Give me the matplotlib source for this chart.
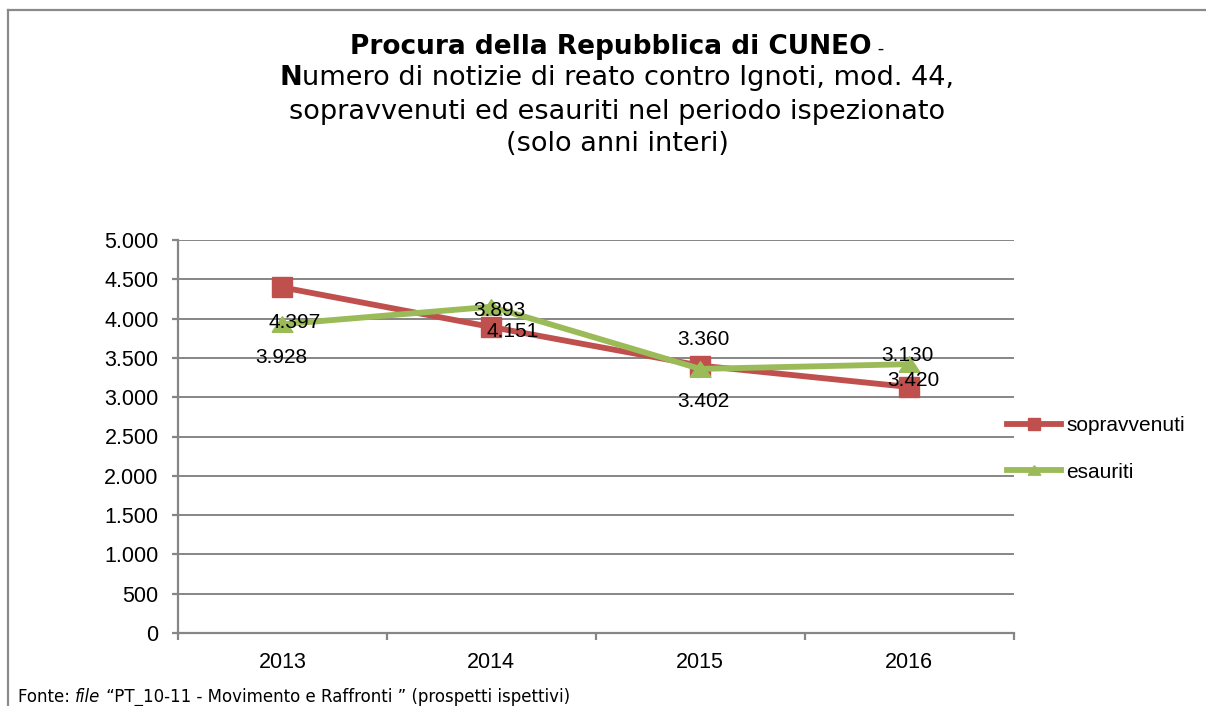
import matplotlib
matplotlib.use("Agg")
import matplotlib.pyplot as plt
from matplotlib.lines import Line2D
from matplotlib.ticker import FixedLocator, FuncFormatter

# dati
anni = ["2013", "2014", "2015", "2016"]
sopravvenuti = [4397, 3893, 3402, 3130]
esauriti = [3928, 4151, 3360, 3420]

# spostamento delle etichette (punti) rispetto al marcatore, come nell'originale
off_sop = [(9, -25), (6, 12), (2, -26), (-1, 23)]
off_esa = [(-1, -24), (15, -18), (2, 21), (3, -12)]

ROSSO = "#C0504D"
VERDE = "#9BBB59"
GRIGIO = "#868686"
TRIANGOLO = [(-1, -0.75), (1, -0.75), (0, 0.75), (-1, -0.75)]

W, H, DPI = 1206, 706, 100
fig = plt.figure(figsize=(W / DPI, H / DPI), dpi=DPI)
ax = fig.add_axes([178 / W, 1 - 633 / H, (1013.5 - 178) / W, (633 - 240) / H])

x = list(range(len(anni)))
ax.plot(x, sopravvenuti, color=ROSSO, lw=4.2, marker="s", ms=14,
        label="sopravvenuti", zorder=3)
ax.plot(x, esauriti, color=VERDE, lw=4.2, marker=TRIANGOLO, ms=15,
        label="esauriti", zorder=4)


def fmt(v):
    return f"{v:,.0f}".replace(",", ".")


for i in x:
    for serie, off in ((sopravvenuti, off_sop), (esauriti, off_esa)):
        ax.annotate(fmt(serie[i]), (i, serie[i]), xytext=off[i], textcoords="offset points",
                    ha="center", va="center", fontsize=15, family="Liberation Sans",
                    color="black", zorder=5)

ax.set_xlim(-0.5, 3.5)
ax.set_ylim(0, 5000)
ax.yaxis.set_major_locator(FixedLocator(range(0, 5001, 500)))
ax.yaxis.set_major_formatter(FuncFormatter(lambda v, p: fmt(v)))
ax.grid(axis="y", color=GRIGIO, lw=1.4)
ax.set_axisbelow(True)
for s in ("top", "right"):
    ax.spines[s].set_visible(False)
for s in ("left", "bottom"):
    ax.spines[s].set_color(GRIGIO)
    ax.spines[s].set_linewidth(1.6)

ax.set_xticks(x)
ax.set_xticklabels(anni)
ax.set_xticks([-0.5, 0.5, 1.5, 2.5, 3.5], minor=True)
ax.tick_params(axis="x", which="major", length=0, pad=14)
ax.tick_params(axis="x", which="minor", length=5, width=1.6, color=GRIGIO)
ax.tick_params(axis="y", length=4, width=1.6, color=GRIGIO, pad=10)
for lab in ax.get_xticklabels() + ax.get_yticklabels():
    lab.set_family("Liberation Sans")
    lab.set_fontsize(15.5)

fig.legend(loc="center left", bbox_to_anchor=(1007 / W, 1 - 449 / H), frameon=False,
           prop={"family": "Liberation Sans", "size": 15}, handlelength=2.6,
           handletextpad=0.25, labelspacing=1.3, borderpad=0, borderaxespad=0,
           markerscale=0.6)

# cornice del grafico
fig.add_artist(Line2D([8 / W, 8 / W], [0, 1 - 10 / H], color="#8A8A8A", lw=1.6))
fig.add_artist(Line2D([8 / W, 1], [1 - 10 / H, 1 - 10 / H], color="#8A8A8A", lw=1.6))

# titolo, con parti in grassetto e normali sulla stessa riga
fig.canvas.draw()
rend = fig.canvas.get_renderer()


def riga(pezzi, y, size, x_centro=None, x_sinistra=None):
    artisti = []
    for testo, peso, stile, dim in pezzi:
        artisti.append(fig.text(0, y, testo, fontsize=dim or size, weight=peso, style=stile,
                                family="DejaVu Sans", va="baseline", ha="left"))
    larghezze = [a.get_window_extent(rend).width for a in artisti]
    tot = sum(larghezze)
    x0 = x_sinistra if x_sinistra is not None else x_centro - tot / 2
    for a, w in zip(artisti, larghezze):
        a.set_x(x0 / W)
        x0 += w


riga([("Procura della Repubblica di CUNEO", "bold", "normal", 19),
      (" -", "normal", "normal", 13)], 1 - 54 / H, 19.5, x_centro=617)
riga([("N", "bold", "normal", None),
      ("umero di notizie di reato contro Ignoti, mod. 44,", "normal", "normal", None)],
     1 - 85 / H, 19.5, x_centro=617)
fig.text(617 / W, 1 - 119 / H, "sopravvenuti ed esauriti nel periodo ispezionato",
         fontsize=19.5, family="DejaVu Sans", ha="center", va="baseline")
fig.text(617 / W, 1 - 151 / H, "(solo anni interi)",
         fontsize=19.5, family="DejaVu Sans", ha="center", va="baseline")

riga([("Fonte: ", "normal", "normal", None),
      ("file", "normal", "italic", None),
      (" \u201cPT_10-11 - Movimento e Raffronti \u201d (prospetti ispettivi)",
       "normal", "normal", None)], 1 - 702 / H, 12, x_sinistra=18)

fig.savefig("out.png", dpi=DPI, facecolor="white")
